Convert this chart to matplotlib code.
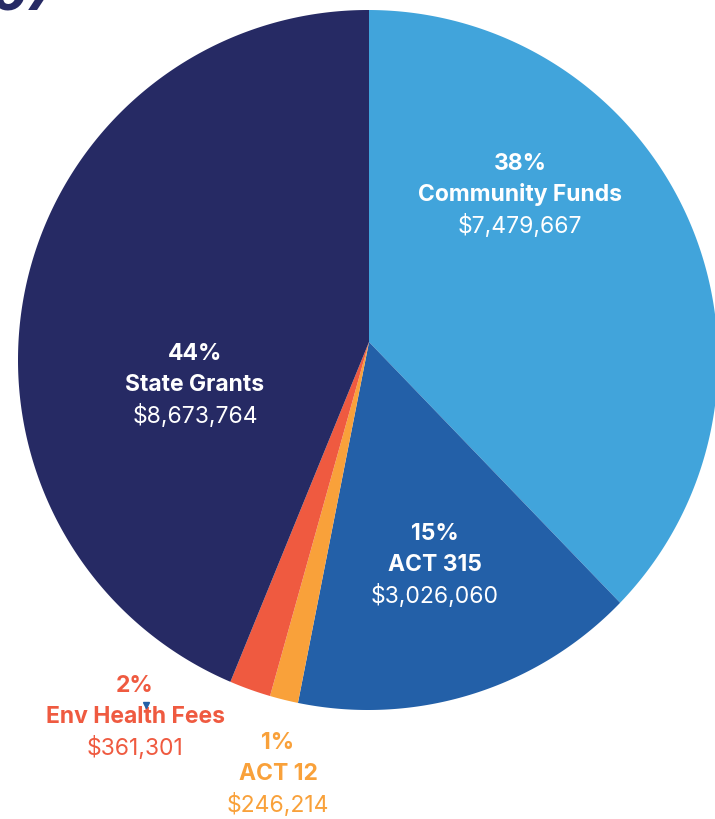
import numpy as np
import matplotlib.pyplot as plt

# data (clockwise from 12 o'clock)
categories = ['Community Funds', 'ACT 315', 'ACT 12', 'Env Health Fees', 'State Grants']
amounts = [7479667, 3026060, 246214, 361301, 8673764]
percents = ['38%', '15%', '1%', '2%', '44%']
colors = ['#41A4DB', '#2360A8', '#F9A13A', '#EF5A40', '#262A64']
label_colors = ['white', 'white', '#F9A13A', '#EF5A40', 'white']

W, H = 715, 819
fig = plt.figure(figsize=(W / 100, H / 100), dpi=100)
ax = fig.add_axes([0, 0, 1, 1])
ax.set_xlim(0, W)
ax.set_ylim(H, 0)
ax.axis('off')

# outline circle, and the wedge vertex which sits a bit above its centre
cx, cy, r = 368, 360, 350
vx, vy = 369, 342


def ray_to_circle(theta):
    # point where a ray from the vertex (clockwise from 12 o'clock) meets the outline
    dx, dy = np.sin(theta), -np.cos(theta)
    ox, oy = vx - cx, vy - cy
    b = ox * dx + oy * dy
    c = ox * ox + oy * oy - r * r
    s = -b + np.sqrt(b * b - c)
    return vx + s * dx, vy + s * dy


vals = np.array(amounts, dtype=float)
edges = np.concatenate([[0], np.cumsum(vals) / vals.sum()]) * 2 * np.pi
for i in range(len(vals)):
    t = np.linspace(edges[i], edges[i + 1], 300)
    xs, ys = ray_to_circle(t)
    ax.fill(np.concatenate([[vx], xs]), np.concatenate([[vy], ys]),
            color=colors[i], lw=0, zorder=2)

# labels
label_pos = [(520, 164), (435, 534), (278, 743), (135, 686), (195, 354)]
fam = ['Inter', 'DejaVu Sans']
fs = 16.5
for i, (x, y) in enumerate(label_pos):
    c = label_colors[i]
    ax.text(x, y, percents[i], ha='center', va='center', fontsize=fs,
            fontweight='bold', color=c, family=fam, zorder=5)
    ax.text(x, y + 31, categories[i], ha='center', va='center', fontsize=fs,
            fontweight='bold', color=c, family=fam, zorder=5)
    ax.text(x, y + 62, '${:,}'.format(amounts[i]), ha='center', va='center',
            fontsize=fs, color=c, family=fam, zorder=5)

# small stray marker over "Health"
ax.plot([146], [705], marker='v', color='#2360A8', markersize=4, zorder=6)

# bottom of the cut-off heading
ax.text(-8, 9, 'o7', ha='left', va='baseline', fontsize=40, fontweight='bold',
        style='italic', color='#262A64', family=fam, zorder=5)

fig.savefig('out.png', dpi=100)
